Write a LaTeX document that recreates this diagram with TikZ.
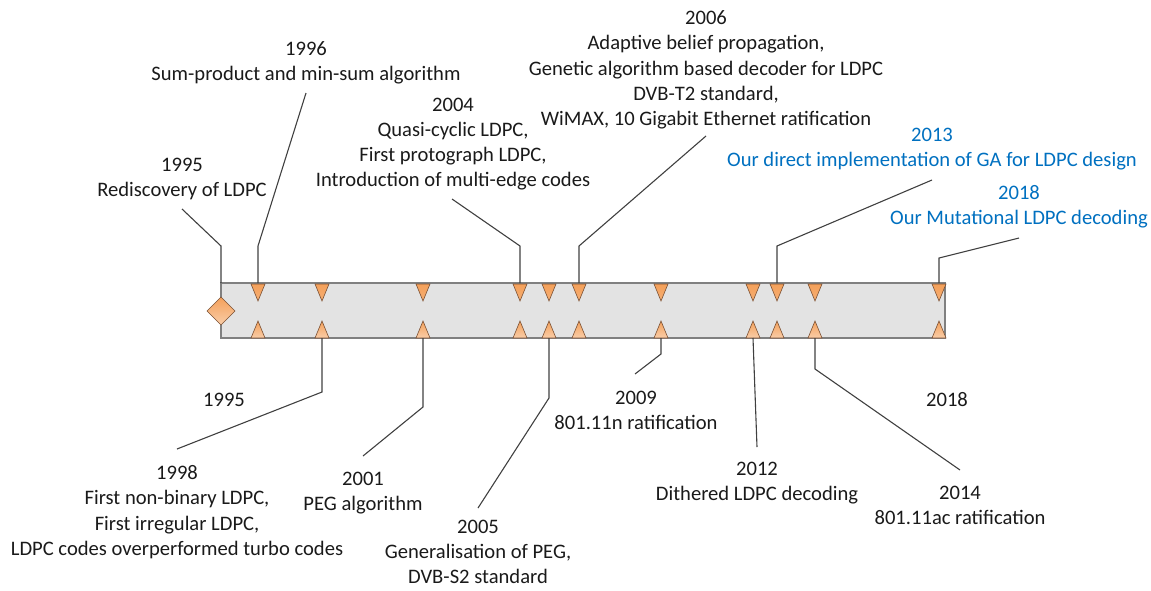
\documentclass[tikz,border=0pt]{standalone}
\usepackage{fontspec}
\setmainfont{Carlito}
\definecolor{barfill}{HTML}{E3E3E3}
\definecolor{barline}{HTML}{808080}
\definecolor{orng}{HTML}{F4A05A}
\definecolor{orngl}{HTML}{F9CDA8}
\definecolor{triline}{HTML}{7A5034}
\definecolor{conncol}{HTML}{404040}
\definecolor{ourblue}{HTML}{0070C0}
\definecolor{txt}{HTML}{1A1A1A}
\tikzset{
  conn/.style={draw=conncol, line width=1.1pt},
  lbl/.style={font=\fontsize{20.6}{25.2}\selectfont, text=txt, align=center, anchor=north, inner sep=0pt, execute at begin node=\strut},
  ours/.style={lbl, text=ourblue},
  tridown/.style={draw=triline, line width=0.6pt, top color=orng, bottom color=orng!85!white},
  triup/.style={draw=triline, line width=0.6pt, top color=orng, bottom color=orngl},
  barbox/.style={draw=barline, fill=barfill, line width=1.5pt},
}
\begin{document}
\begin{tikzpicture}[x=1pt,y=-1pt]
\useasboundingbox (0,0) rectangle (1151,590);
% bar
\draw[barbox] (221,283) rectangle (945,338);
% markers
\foreach \m in {258,322,423,520,549,579,661,753,777,815,939}{
  \draw[tridown] (\m-7,284) -- (\m+7,284) -- (\m,301) -- cycle;
  \draw[triup] (\m-7,338) -- (\m+7,338) -- (\m,321) -- cycle;
}
\draw[triup] (207,311) -- (221,297) -- (235,311) -- (221,325) -- cycle;

% labels (top)
\node[lbl] (y1995t) at (182,157.5) {1995\\Rediscovery of LDPC};
\node[lbl] (y1996) at (306,41.5) {1996\\Sum-product and min-sum algorithm};
\node[lbl] (y2004) at (453,97.5) {2004\\Quasi-cyclic LDPC,\\First protograph LDPC,\\Introduction of multi-edge codes};
\node[lbl] (y2006) at (706,10.5) {2006\\Adaptive belief propagation,\\Genetic algorithm based decoder for LDPC\\DVB-T2 standard,\\WiMAX, 10 Gigabit Ethernet ratification};
\node[ours] (y2013) at (932,127.5) {2013\\Our direct implementation of GA for LDPC design};
\node[ours] (y2018) at (1019,185.5) {2018\\Our Mutational LDPC decoding};
% labels (bottom)
\node[lbl] (y1995b) at (224,388.5) {1995};
\node[lbl] (y2018b) at (947,388.5) {2018};
\node[lbl] (y1998) at (177,465.5) {1998\\First non-binary LDPC,\\First irregular LDPC,\\LDPC codes overperformed turbo codes};
\node[lbl] (y2001) at (363,471.5) {2001\\PEG algorithm};
\node[lbl] (y2005) at (478,520) {2005\\Generalisation of PEG,\\DVB-S2 standard};
\node[lbl] (y2009) at (636,390.5) {2009\\801.11n ratification};
\node[lbl] (y2012) at (757,461.5) {2012\\Dithered LDPC decoding};
\node[lbl] (y2014) at (960,485.5) {2014\\801.11ac ratification};

% connector coordinates: t = marker, k = elbow, e = free end
\coordinate (t95) at (221,283); \coordinate (k95) at (221,246); \coordinate (e95) at (182,209);
\coordinate (t96) at (258,283); \coordinate (k96) at (258,246); \coordinate (e96) at (306,93);
\coordinate (t04) at (520,283); \coordinate (k04) at (520,246); \coordinate (e04) at (452,199);
\coordinate (t06) at (579,283); \coordinate (k06) at (579,246); \coordinate (e06) at (706,136);
\coordinate (t13) at (777,283); \coordinate (k13) at (777,246); \coordinate (e13) at (932,180);
\coordinate (t18) at (939,283); \coordinate (k18) at (939,258); \coordinate (e18) at (1019,238);
\coordinate (t98) at (322,338); \coordinate (k98) at (322,392); \coordinate (e98) at (177,449);
\coordinate (t01) at (423,338); \coordinate (k01) at (423,407); \coordinate (e01) at (363,456);
\coordinate (t05) at (549,338); \coordinate (k05) at (549,398); \coordinate (e05) at (478,508);
\coordinate (t09) at (661,338); \coordinate (k09) at (661,354); \coordinate (e09) at (635,374);
\coordinate (t12) at (753,338); \coordinate (e12) at (757,447);
\coordinate (t14) at (815,338); \coordinate (k14) at (815,369); \coordinate (e14) at (960,470);

\foreach \a in {95,96,04,06,13,18,98,01,05,09,14}{
  \draw[conn] (t\a) -- (k\a) -- (e\a);
}
\draw[conn] (t12) -- (e12);
\end{tikzpicture}
\end{document}
